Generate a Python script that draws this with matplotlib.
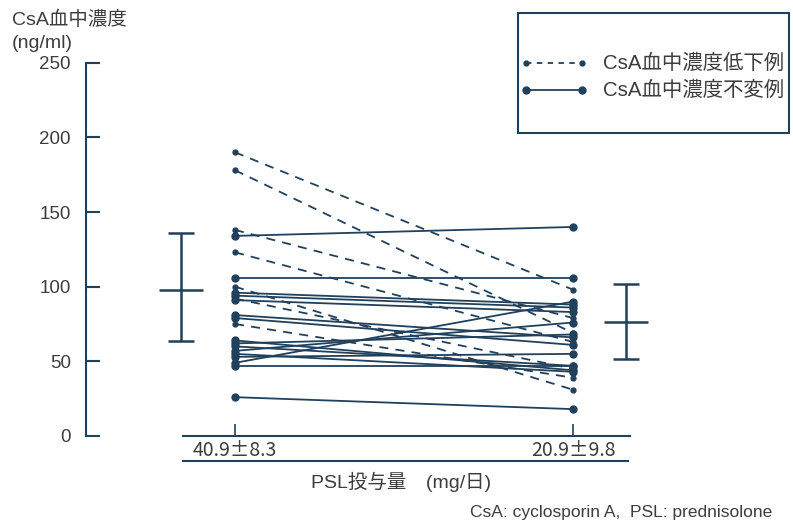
import matplotlib
matplotlib.use("Agg")
import matplotlib.pyplot as plt
from matplotlib.lines import Line2D
from matplotlib.patches import Rectangle

plt.rcParams['font.family'] = ['Liberation Sans', 'Noto Sans CJK JP', 'DejaVu Sans']

# CsA blood levels (ng/ml) before / after PSL reduction
down_pre = [190, 178, 138, 123, 100, 92, 75]
down_post = [98, 69, 79, 63, 31, 45, 39]
same_pre = [134, 106, 96, 94, 91, 81, 79, 64, 62, 60, 57, 55, 53, 49, 47, 26]
same_post = [140, 106, 88, 86, 83, 66, 61, 44, 68, 47, 76, 43, 55, 90, 47, 18]

# mean +/- SD
mean_vals = [97.8, 76.5]
sd_low = [63.6, 51.4]
sd_high = [136.0, 101.8]

xlabels = ['40.9±8.3', '20.9±9.8']
legend_labels = ['CsA血中濃度低下例', 'CsA血中濃度不変例']

navy = '#21405c'
txt = '#3d3d3d'

W, H = 793, 526
fig = plt.figure(figsize=(W / 100, H / 100), dpi=100)

# axes placed in pixel terms
ax_l, ax_r, ax_b, ax_t = 86, 660, 436, 62.7
ax = fig.add_axes([ax_l / W, 1 - ax_b / H, (ax_r - ax_l) / W, (ax_b - ax_t) / H])
px = 338.0  # pixels per x unit (left points at 235, right at 573)
ax.set_xlim((ax_l - 235) / px, (ax_r - 235) / px)
ax.set_ylim(0, 250)

for a, b in zip(same_pre, same_post):
    ax.plot([0, 1], [a, b], color=navy, lw=1.3, marker='o', ms=5, clip_on=False)
for a, b in zip(down_pre, down_post):
    ax.plot([0, 1], [a, b], color=navy, lw=1.3, ls=(0, (5, 4)), marker='o', ms=3.5,
            clip_on=False)

# error bars beside the two groups
eb_x = [(180.7 - 235) / px, (626 - 235) / px]
for x, m, lo, hi in zip(eb_x, mean_vals, sd_low, sd_high):
    ax.errorbar([x], [m], yerr=[[m - lo], [hi - m]], fmt='none', ecolor=navy,
                elinewidth=1.8, capsize=9.7, capthick=1.8, clip_on=False)
    ax.hlines(m, x - 22 / px, x + 22 / px, color=navy, lw=1.8, clip_on=False)

for s in ['top', 'right']:
    ax.spines[s].set_visible(False)
for s in ['left', 'bottom']:
    ax.spines[s].set_color(navy)
    ax.spines[s].set_linewidth(1.5)
ax.spines['bottom'].set_bounds((183 - 235) / px, (630 - 235) / px)

ax.set_yticks([0, 50, 100, 150, 200, 250])
ax.tick_params(axis='y', direction='in', length=10, width=1.5, color=navy,
               labelsize=13.5, labelcolor=txt, pad=11)
ax.set_xticks([0, 1])
ax.set_xticklabels(xlabels, family=['Noto Sans CJK JP'])
ax.tick_params(axis='x', direction='in', length=9, width=1.2, color=navy,
               labelsize=14, labelcolor=txt, pad=3)
ax.patch.set_alpha(0)

# overlay in pixel coordinates for legend box and annotations
ov = fig.add_axes([0, 0, 1, 1])
ov.set_xlim(0, W)
ov.set_ylim(H, 0)
ov.axis('off')
ov.patch.set_alpha(0)

ov.add_line(Line2D([183, 628], [460.7, 460.7], color=navy, lw=1.5))
ov.text(401, 482, 'PSL投与量　(mg/日)', ha='center', va='center', fontsize=14, color=txt)
ov.text(772, 512, 'CsA: cyclosporin A,  PSL: prednisolone', ha='right', va='center',
        fontsize=12.5, color=txt)
ov.text(12, 20, 'CsA血中濃度', ha='left', va='center', fontsize=14, color=txt)
ov.text(12, 43, '(ng/ml)', ha='left', va='center', fontsize=14, color=txt)

ov.add_patch(Rectangle((518, 13), 271, 120, fill=False, edgecolor=navy, lw=1.5))
styles = [((0, (3, 3)), 3.5), ('-', 5)]
for (ls, ms), lab, y in zip(styles, legend_labels, [63, 90]):
    ov.add_line(Line2D([526, 582], [y, y], color=navy, lw=1.3, ls=ls, marker='o', ms=ms))
    ov.text(603, y, lab, ha='left', va='center', fontsize=14.7, color=txt)

fig.savefig('out.png', dpi=100)
